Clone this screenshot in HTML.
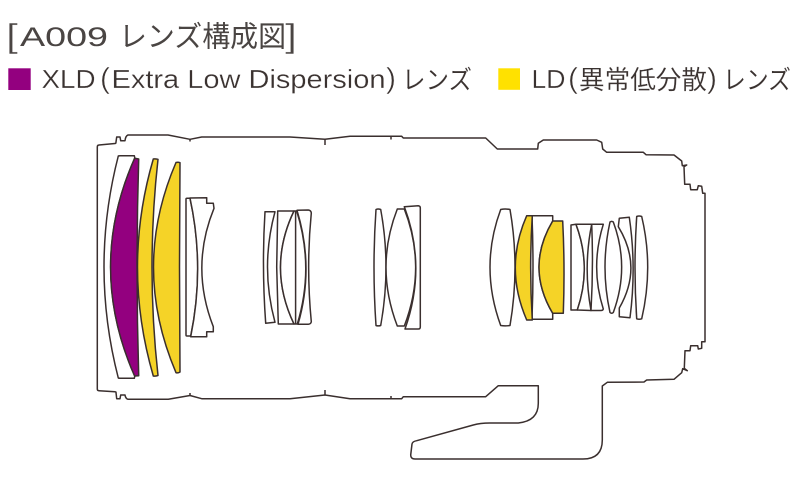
<!DOCTYPE html>
<html><head><meta charset="utf-8"><style>
html,body{margin:0;padding:0;background:#fff}
svg{display:block}
text{font-family:"Liberation Sans","Noto Sans CJK JP",sans-serif}
.t{fill:#4a4543;font-size:27px}
.tj{fill:#4a4543;font-size:29px}
.tb{fill:#4a4543;font-size:33px;stroke:#fff;stroke-width:.5px}
.s{fill:#3a3230;font-size:26px;stroke:#fff;stroke-width:.25px}
.sj{fill:#3a3230;font-size:26px;stroke:#fff;stroke-width:.15px}
.sb{fill:#3a3230;font-size:29px;stroke:#fff;stroke-width:.5px}
.c{fill:none;stroke:#3a2f2e;stroke-width:1.5;stroke-linejoin:round}
.w{fill:#fff;stroke:#3a2f2e;stroke-width:1.5;stroke-linejoin:round}
.p{fill:#93007f;stroke:#3a2f2e;stroke-width:1.5;stroke-linejoin:round}
.y{fill:#f5d327;stroke:#3a2f2e;stroke-width:1.5;stroke-linejoin:round}
</style></head><body>
<svg width="800" height="482" viewBox="0 0 800 482" xmlns="http://www.w3.org/2000/svg">
<text class="tb" x="6" y="47" textLength="12" lengthAdjust="spacingAndGlyphs">[</text>
<text class="t" x="20" y="46" textLength="88" lengthAdjust="spacingAndGlyphs">A009</text>
<text class="tj" x="119" y="46.5" textLength="167" lengthAdjust="spacingAndGlyphs">レンズ構成図</text>
<text class="tb" x="285" y="47" textLength="12" lengthAdjust="spacingAndGlyphs">]</text>

<rect x="8.3" y="68.3" width="22.4" height="21.7" fill="#93007f"/>
<text class="s" x="41.5" y="88" textLength="54" lengthAdjust="spacingAndGlyphs">XLD</text>
<text class="sb" x="100" y="88" textLength="10" lengthAdjust="spacingAndGlyphs">(</text>
<text class="s" x="111.5" y="88" textLength="274" lengthAdjust="spacingAndGlyphs">Extra Low Dispersion</text>
<text class="sb" x="386" y="88" textLength="10" lengthAdjust="spacingAndGlyphs">)</text>
<text class="sj" x="402" y="89" textLength="70" lengthAdjust="spacingAndGlyphs">レンズ</text>

<rect x="498.3" y="68.3" width="21.7" height="21.5" fill="#ffe100"/>
<text class="s" x="531.5" y="88" textLength="34" lengthAdjust="spacingAndGlyphs">LD</text>
<text class="sb" x="568" y="88" textLength="10" lengthAdjust="spacingAndGlyphs">(</text>
<text class="sj" x="579" y="89" textLength="128" lengthAdjust="spacingAndGlyphs">異常低分散</text>
<text class="sb" x="707" y="88" textLength="10" lengthAdjust="spacingAndGlyphs">)</text>
<text class="sj" x="723" y="89" textLength="68" lengthAdjust="spacingAndGlyphs">レンズ</text>

<!-- body -->
<path class="c" d="M97.3 389 L97.3 147 Q97.3 145 99 145 L115 143.5 Q116 143.5 116 142 L116.7 137 L120 137 L120.7 140.7 L125 140.7 Q125.5 136 128 135 L168 135 L190 139.3 L201.7 137 L290 137 L325 139.3 L350 136.3 L401.7 136.3 L403.3 138 L485.7 138 L497.3 149 L537.7 149 L538.3 143.3 L543.3 140 L596.7 140 L601.7 142.3 L602.7 149 L606.7 152.3 L643.3 152.3 L646 154.7 L674 155 L681.7 161 L682.3 165.7 L686.7 165 L684 166.7 L684.7 184.3 L690 184.3 L690.7 189.7 L697.3 189.7 L698.3 185.7 L701.7 186.3 L702.7 193.3 L705 193.3 L705 341.7 L701.7 341.7 L701.7 348.3 L698.3 349 L697.7 345.7 L690.7 345.7 L690 350.7 L685 350.7 L684.3 368.3 L687.3 370.7 L682.7 368.7 L681.7 372.7 L674 379.3 L646.7 380 L644 382 L607.3 382.3 L602.3 386 L602.3 440 Q602.3 459 583 459 L415 459 Q410.7 459 410.7 455 L412 444 Q412.5 441.5 416.7 440.7 L473.3 425 Q480 423 490 423 L518.3 423 Q538.3 421 538.3 403.3 L538.3 385.7 L498.3 385.7 L485.7 396.7 L403.3 396.7 L401.7 398.7 L350 398.7 L325 395 L290 398.7 L201.7 398.7 L190 395.5 L168.3 399.3 L128 399.3 Q125.5 398.5 125 395 L120.7 395 L120 398.7 L116.7 398.7 L116 392.5 Q116 391.7 115 391.7 L99 390.7 Q97.3 390.7 97.3 389 Z"/>
<path class="c" d="M325 139 V145 M391 136.3 V139.5 M325 395 V390 M391 398.7 V396 M190 139.3 V141.5 M190 395.5 V393"/>

<!-- group 1 -->
<path class="w" d="M118.3 156 Q119 155.7 120 155.7 L134.3 155.7 L134.8 158 Q86.5 267 134.8 376 L134.3 378.3 L120 378.3 Q119 378.3 118.3 378 Q89.7 267 118.3 156 Z"/>
<path class="p" d="M134.6 158.3 L138.7 159 Q135.4 267 138.7 375.7 L134.6 376 Q86.5 267 134.6 158.3 Z"/>
<path class="y" d="M153.3 159 Q155 158.6 158 159.3 Q146 267 158 375.5 Q155 376.4 153.3 376 Q121.7 267 153.3 159 Z"/>
<path class="y" d="M176 162.5 Q178 161.8 180 162.7 L179.5 267 L180 372 Q178 373.4 176 372.7 Q131 267 176 162.5 Z"/>
<path class="w" d="M186 199 Q186 198.3 187 198.3 L190 198.3 Q205 267 190.7 336 L187 336 Q186 336 186 335 Z"/>
<path class="w" d="M190 198 L206.7 197.7 L206.7 203.3 L213.3 203.3 L214 208.3 Q190 267 213.3 326.7 L213.3 331.7 L206.7 331.7 L206.7 336.7 L190.7 336.7 Q205 267 190 198 Z"/>

<!-- group 2 -->
<path class="w" d="M265 211.7 L275 211.7 Q260 267 275 322.3 L265.7 323.3 Q261.6 267 265 211.7 Z"/>
<path class="w" d="M277.7 211 L294 211 Q267 267.5 294 324 L278.3 324 L276.7 267 Z"/>
<path class="w" d="M294 211 L296.7 211 Q314.5 267.5 297.3 324 L294 324 Q267 267.5 294 211 Z"/>
<path class="c" d="M295.6 211 V324"/>
<path class="w" d="M297 210.3 L308.3 210 Q311 210.3 311.3 213 Q306 267 311.3 321.7 Q311 324 308.3 324.3 L298 324.3 Q314.5 267.5 297 210.3 Z"/>

<!-- group 3 -->
<path class="w" d="M376 209.5 Q378 208.5 380.7 209.5 Q391.3 267 380.7 325.5 Q378 326.3 376 325.5 Q372 267 376 209.5 Z"/>
<path class="w" d="M397.3 209 L404.3 209 Q427 267 404.3 326 L397.3 326 Q374.7 267 397.3 209 Z"/>
<path class="w" d="M404.3 206.7 L418.3 205.7 Q420.3 206 420.3 207.7 L420.3 327 Q420.3 329 418.3 329 L405 329 Q427 267 404.3 206.7 Z"/>

<!-- group 4 -->
<path class="w" d="M500.7 209.5 Q505 208.5 510 209.5 Q520 267 510 325.5 Q505 326.3 500.7 325.5 Q479.3 267 500.7 209.5 Z"/>
<path class="w" d="M532 215.7 L552.7 215.7 L552.7 221 Q525.3 267 552.7 313.3 L552.7 319.3 L532 319.3 Q534 267 532 215.7 Z"/>
<path class="y" d="M526.7 215.7 L532.3 215.7 Q529 267.5 532.3 320 L526.7 320 Q503.9 267.5 526.7 215.7 Z"/>
<path class="y" d="M552.7 221 L562.7 221 Q565 267 563.3 313.3 L552.7 313.3 Q525.3 267 552.7 221 Z"/>
<path class="w" d="M571 225 L576 224.3 Q592 267 577.3 310 L571 310 Z"/>
<path class="w" d="M576 224.3 L591.7 224.3 Q583 267 591 310.5 L577.3 310 Q592 267 576 224.3 Z"/>
<path class="w" d="M591.7 224.3 L603.3 224.3 Q590 267 603.3 309 Q603 310.5 601 310.5 L591 310.5 Q593.5 267 591.7 224.3 Z"/>
<path class="w" d="M610 222 Q611.7 220.8 613.3 222 Q630 267 613.3 312.5 Q611.7 314 610 312.5 Q600 267 610 222 Z"/>
<path class="w" d="M619.3 218.3 L629.3 217.3 Q636.6 267 630 317.7 L619.3 316.7 L619.3 308 Q643 267 618.3 226.7 Z"/>
<path class="w" d="M636.7 216.5 Q639 215.5 641.7 216.5 Q653.7 267 641.7 318.8 Q639 319.6 636.7 318.8 Q633.3 267 636.7 216.5 Z"/>
</svg>
</body></html>
